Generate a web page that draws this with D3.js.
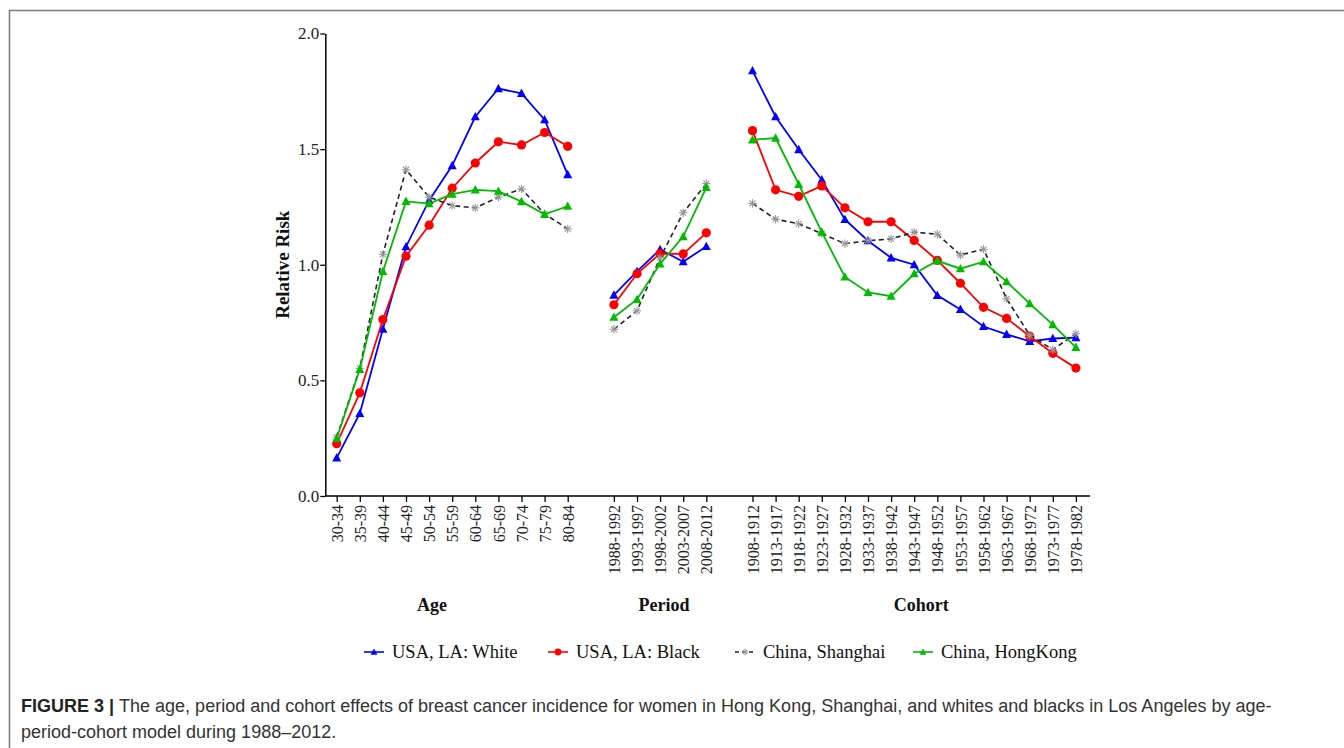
<!DOCTYPE html>
<html><head><meta charset="utf-8">
<script src="https://cdn.jsdelivr.net/npm/d3@7"></script>
<style>
body{margin:0;background:#fff;}
svg{display:block;}
</style></head>
<body>
<svg id="chart" width="1344" height="748"></svg>
<script>
// ---------- data ----------
const ageCats = ["30-34","35-39","40-44","45-49","50-54","55-59","60-64","65-69","70-74","75-79","80-84"];
const periodCats = ["1988-1992","1993-1997","1998-2002","2003-2007","2008-2012"];
const cohortCats = ["1908-1912","1913-1917","1918-1922","1923-1927","1928-1932","1933-1937","1938-1942","1943-1947","1948-1952","1953-1957","1958-1962","1963-1967","1968-1972","1973-1977","1978-1982"];
const yTicks = [0, 0.5, 1.0, 1.5, 2.0];
const groupLabels = ["Age","Period","Cohort"];
const seriesNames = ["USA, LA: White","USA, LA: Black","China, Shanghai","China, HongKong"];

const whiteAge = [0.165,0.357,0.722,1.078,1.278,1.429,1.640,1.762,1.741,1.627,1.390];
const blackAge = [0.226,0.446,0.763,1.037,1.171,1.331,1.440,1.532,1.518,1.572,1.512];
const shanghaiAge = [0.255,0.552,1.045,1.411,1.292,1.256,1.246,1.292,1.328,1.220,1.155];
const hongkongAge = [0.249,0.548,0.971,1.274,1.264,1.305,1.324,1.318,1.273,1.218,1.253];

const whitePeriod = [0.869,0.971,1.066,1.013,1.079];
const blackPeriod = [0.827,0.961,1.048,1.047,1.138];
const shanghaiPeriod = [0.721,0.801,1.030,1.225,1.351];
const hongkongPeriod = [0.773,0.850,1.004,1.122,1.334];

const whiteCohort = [1.839,1.640,1.498,1.367,1.196,1.104,1.030,1.000,0.868,0.807,0.733,0.699,0.669,0.681,0.685];
const blackCohort = [1.580,1.324,1.296,1.341,1.246,1.186,1.186,1.105,1.019,0.920,0.816,0.768,0.691,0.617,0.553];
const shanghaiCohort = [1.265,1.197,1.177,1.135,1.091,1.104,1.112,1.141,1.132,1.042,1.067,0.853,0.695,0.633,0.702];
const hongkongCohort = [1.540,1.548,1.348,1.141,0.947,0.880,0.864,0.961,1.017,0.983,1.013,0.927,0.832,0.741,0.643];

// ---------- setup ----------
const svg = d3.select("#chart");
const serif = "'Liberation Serif','Times New Roman',serif";
const sans = "'Liberation Sans',Arial,sans-serif";

// frame
svg.append("path").attr("d","M9.5,748 V10.5 H1344").attr("fill","none").attr("stroke","#7f7f7f").attr("stroke-width",1.6);

// slot domain with gaps between the groups
const slots = [...ageCats, "_gap1", ...periodCats, "_gap2", ...cohortCats];
const x = d3.scalePoint().domain(slots).range([336.7, 1075.9]);
const y = d3.scaleLinear().domain([0, 2]).range([496, 33.5]);

const axisLeftX = 325.3, axisRightX = 1090;

// y axis
const gy = svg.append("g").attr("transform",`translate(${axisLeftX},0)`)
  .call(d3.axisLeft(y).tickValues(yTicks).tickFormat(d3.format(".1f")).tickSize(5).tickSizeOuter(0));
gy.select(".domain").attr("stroke","#000").attr("stroke-width",1.5);
gy.selectAll(".tick line").attr("stroke","#000").attr("stroke-width",1.3);
gy.selectAll(".tick text").attr("font-family",serif).attr("font-size",17).attr("fill","#222").attr("x",-6);

// x axis
const tickCats = [...ageCats, ...periodCats, ...cohortCats];
const gx = svg.append("g").attr("transform","translate(0,496)")
  .call(d3.axisBottom(x).tickValues(tickCats).tickSize(6).tickSizeOuter(0));
gx.select(".domain").attr("d",`M${axisLeftX},0H${axisRightX}`).attr("stroke","#000").attr("stroke-width",1.5);
gx.selectAll(".tick line").attr("stroke","#000").attr("stroke-width",1.3);
gx.selectAll(".tick text")
  .attr("font-family",serif).attr("font-size",16).attr("fill","#222")
  .attr("transform","rotate(-90)").attr("text-anchor","end")
  .attr("x",-9).attr("y",0).attr("dy","0.35em");

// y axis label
svg.append("text").attr("transform",`translate(289,${y(1)}) rotate(-90)`)
  .attr("text-anchor","middle").attr("font-family",serif).attr("font-weight","bold")
  .attr("font-size",19).attr("fill","#111").text("Relative Risk");

// group labels
const groupPos = [x(ageCats[4]) + 3, x(periodCats[2]) + 4, x(cohortCats[7]) + 7];
groupLabels.forEach((g,i)=>{
  svg.append("text").attr("x",groupPos[i]).attr("y",611).attr("text-anchor","middle")
    .attr("font-family",serif).attr("font-weight","bold").attr("font-size",18).attr("fill","#111").text(g);
});

// ---------- series ----------
const series = [
  {name:seriesNames[0], color:"#0000ff", marker:"tri", dash:null, seg:[whiteAge,whitePeriod,whiteCohort]},
  {name:seriesNames[1], color:"#ff0000", marker:"circle", dash:null, seg:[blackAge,blackPeriod,blackCohort]},
  {name:seriesNames[2], color:"#222222", marker:"star", dash:"5,3.5", seg:[shanghaiAge,shanghaiPeriod,shanghaiCohort]},
  {name:seriesNames[3], color:"#00bb00", marker:"tri", dash:null, seg:[hongkongAge,hongkongPeriod,hongkongCohort]}
];
const catGroups = [ageCats, periodCats, cohortCats];
const line = d3.line().x(d=>x(d.c)).y(d=>y(d.v));

function drawMarker(g, type, color, cx, cy, s){
  if(type==="tri"){
    const h = 8*s, w = 9*s;
    g.append("path").attr("d",`M${cx},${cy-h*0.6}L${cx+w/2},${cy+h*0.45}L${cx-w/2},${cy+h*0.45}Z`).attr("fill",color);
  } else if(type==="circle"){
    g.append("circle").attr("cx",cx).attr("cy",cy).attr("r",4.6*s).attr("fill",color);
  } else {
    const r = 4.2*s;
    const st = g.append("g").attr("stroke","#9a9a9a").attr("stroke-width",1.1);
    for(let k=0;k<4;k++){
      const a = k*Math.PI/4;
      st.append("line").attr("x1",cx-r*Math.cos(a)).attr("y1",cy-r*Math.sin(a))
        .attr("x2",cx+r*Math.cos(a)).attr("y2",cy+r*Math.sin(a));
    }
  }
}

const plot = svg.append("g");
series.forEach(s=>{
  s.seg.forEach((vals,gi)=>{
    const pts = vals.map((v,i)=>({c:catGroups[gi][i], v}));
    plot.append("path").datum(pts).attr("d",line).attr("fill","none")
      .attr("stroke",s.color).attr("stroke-width",s.dash?1.6:1.8)
      .attr("stroke-dasharray",s.dash);
    pts.forEach(p=>drawMarker(plot, s.marker, s.color, x(p.c), y(p.v), 1));
  });
});

// ---------- legend ----------
const legX = [364, 548, 735, 913];
const leg = svg.append("g");
series.forEach((s,i)=>{
  const lx = legX[i], ly = 652;
  leg.append("line").attr("x1",lx).attr("x2",lx+20).attr("y1",ly).attr("y2",ly)
    .attr("stroke",s.color).attr("stroke-width",1.6).attr("stroke-dasharray",s.dash?"4,3":null);
  drawMarker(leg, s.marker, s.color, lx+10, ly, 0.75);
  leg.append("text").attr("x",lx+28).attr("y",ly).attr("dy","0.35em")
    .attr("font-family",serif).attr("font-size",18.5).attr("fill","#111").text(s.name);
});

// ---------- caption ----------
const cap = svg.append("text").attr("font-family",sans).attr("font-size",18).attr("fill","#333");
const l1 = cap.append("tspan").attr("x",21).attr("y",712);
l1.append("tspan").attr("font-weight","bold").attr("fill","#222").text("FIGURE 3 | ");
l1.append("tspan").text("The age, period and cohort effects of breast cancer incidence for women in Hong Kong, Shanghai, and whites and blacks in Los Angeles by age-");
cap.append("tspan").attr("x",21).attr("y",738).text("period-cohort model during 1988–2012.");
</script>
</body></html>
